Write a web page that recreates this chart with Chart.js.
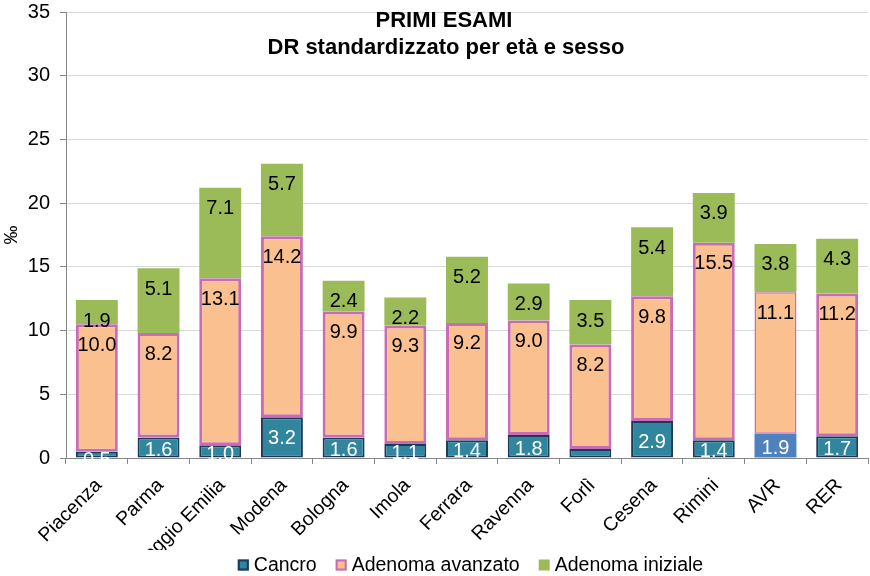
<!DOCTYPE html>
<html><head><meta charset="utf-8">
<script src="https://cdn.jsdelivr.net/npm/chart.js@4/dist/chart.umd.min.js"></script>
<style>html,body{margin:0;padding:0;background:#fff}#wrap{width:870px;height:576px}</style>
</head><body><div id="wrap"><canvas id="c" width="870" height="576"></canvas></div>
<script>
const categories = ['Piacenza','Parma','Reggio Emilia','Modena','Bologna','Imola','Ferrara','Ravenna','Forlì','Cesena','Rimini','AVR','RER'];
const cancro = [0.5,1.6,1.0,3.2,1.6,1.1,1.4,1.8,0.7,2.9,1.4,1.9,1.7];
const adenomaAvanzato = [10.0,8.2,13.1,14.2,9.9,9.3,9.2,9.0,8.2,9.8,15.5,11.1,11.2];
const adenomaIniziale = [1.9,5.1,7.1,5.7,2.4,2.2,5.2,2.9,3.5,5.4,3.9,3.8,4.3];
const yTicks = [0,5,10,15,20,25,30,35];
const hiddenCancroLabels = ['Forlì'];
const titleLines = ['PRIMI ESAMI','DR standardizzato per età e sesso'];
const legendItems = [
  {text:'Cancro', fill:'#31859C', stroke:'#1B3A5C'},
  {text:'Adenoma avanzato', fill:'#FAC090', stroke:'#C86DB5'},
  {text:'Adenoma iniziale', fill:'#9BBB59', stroke:null}
];

const FONT = "'Liberation Sans', Arial, sans-serif";
Chart.defaults.font.family = FONT;
Chart.defaults.color = '#000';

const cancroFill = categories.map(c => c === 'AVR' ? '#4F81BD' : '#31859C');
const cancroBorderW = categories.map(c => c === 'AVR' ? 0 : 2);
const avzBorderW = categories.map(c => c === 'AVR' ? 1.5 : 3);

const labelPlugin = {
  id: 'segLabels',
  afterDatasetsDraw(chart) {
    const ctx = chart.ctx, area = chart.chartArea;
    ctx.save();
    ctx.beginPath();
    ctx.rect(area.left, area.top, area.right - area.left, area.bottom - area.top + 1);
    ctx.clip();
    ctx.font = '20px ' + FONT;
    ctx.textAlign = 'center';
    ctx.textBaseline = 'middle';
    chart.data.datasets.forEach((ds, di) => {
      const meta = chart.getDatasetMeta(di);
      meta.data.forEach((el, i) => {
        if (di === 0 && hiddenCancroLabels.includes(categories[i])) return;
        const v = ds.data[i];
        const h = el.base - el.y;
        const off = di === 0 ? Math.max(Math.min(h / 2 + 3, 21), 9) : 21;
        ctx.fillStyle = di === 0 ? '#fff' : '#000';
        ctx.fillText(v.toFixed(1), el.x, el.y + off);
      });
    });
    ctx.restore();
  }
};
const titleLegendPlugin = {
  id: 'titleLegend',
  afterDraw(chart) {
    const ctx = chart.ctx;
    ctx.save();
    ctx.font = 'bold 22px ' + FONT;
    ctx.fillStyle = '#000';
    ctx.textAlign = 'center';
    ctx.textBaseline = 'middle';
    ctx.fillText(titleLines[0], 444, 21);
    ctx.fillText(titleLines[1], 446, 48);
    // legend
    ctx.font = '19.5px ' + FONT;
    ctx.textAlign = 'left';
    const box = 11, gapText = 5, gapItem = 19;
    const widths = legendItems.map(it => box + gapText + ctx.measureText(it.text).width);
    const total = widths.reduce((a,b)=>a+b,0) + gapItem*(legendItems.length-1);
    let x = 470.5 - total/2;
    const cy = 565;
    legendItems.forEach((it, k) => {
      ctx.fillStyle = it.fill;
      ctx.fillRect(x, cy - box/2, box, box);
      if (it.stroke) { ctx.strokeStyle = it.stroke; ctx.lineWidth = 2; ctx.strokeRect(x+1, cy - box/2 + 1, box-2, box-2); }
      ctx.fillStyle = '#000';
      ctx.fillText(it.text, x + box + gapText, cy + 1);
      x += widths[k] + gapItem;
    });
    ctx.restore();
  }
};

new Chart(document.getElementById('c'), {
  type: 'bar',
  data: {
    labels: categories,
    datasets: [
      {label:'Cancro', data: cancro, backgroundColor: cancroFill, borderColor:'#1B3A5C', borderWidth: cancroBorderW, borderSkipped:false},
      {label:'Adenoma avanzato', data: adenomaAvanzato, backgroundColor:'#FAC090', borderColor:'#C86DB5', borderWidth: avzBorderW, borderSkipped:false},
      {label:'Adenoma iniziale', data: adenomaIniziale, backgroundColor:'#9BBB59', borderWidth:0, borderSkipped:false}
    ]
  },
  options: {
    responsive:false, animation:false,
    layout:{padding:{top:12,right:2,left:0,bottom:26}},
    datasets:{bar:{categoryPercentage:1, barPercentage:0.68}},
    plugins:{
      tooltip:{enabled:false},
      legend:{display:false}
    },
    scales:{
      x:{
        stacked:true,
        grid:{display:true, drawOnChartArea:false, drawTicks:true, tickLength:6, tickColor:'#868686', offset:true},
        border:{color:'#868686', width:1},
        ticks:{font:{size:19.5}, color:'#000', maxRotation:45, minRotation:45, padding:10, labelOffset:2, autoSkip:false},
        afterFit(s){ s.height = 92; s.paddingLeft = 0; s.paddingRight = 0; }
      },
      y:{
        stacked:true, min:0, max:35,
        afterBuildTicks(s){ s.ticks = yTicks.map(v=>({value:v})); },
        grid:{color:'#D9D9D9', tickColor:'#868686', tickLength:6},
        border:{color:'#868686', width:1},
        ticks:{font:{size:20}, color:'#000', padding:10},
        title:{display:true, text:'‰', font:{size:19}, color:'#000', padding:{top:0,bottom:8}},
        afterFit(s){ s.width = 66; s.paddingTop = 0; s.paddingBottom = 0; }
      }
    }
  },
  plugins:[labelPlugin, titleLegendPlugin]
});
</script>
</body></html>
